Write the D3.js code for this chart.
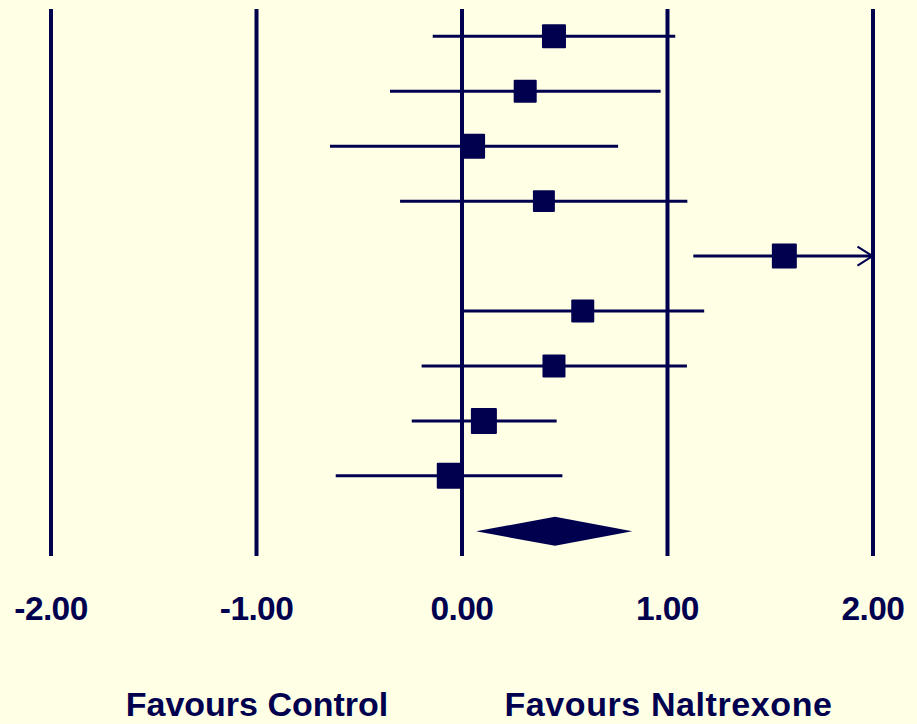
<!DOCTYPE html>
<html>
<head>
<meta charset="utf-8">
<script src="https://cdn.jsdelivr.net/npm/d3@7"></script>
<style>
  html, body { margin: 0; padding: 0; background: #FFFFE6; }
  svg { display: block; }
</style>
</head>
<body>
<svg id="chart" width="917" height="724"></svg>
<script>
// ---- data ----
const studies = ["Study 1", "Study 2", "Study 3", "Study 4", "Study 5", "Study 6", "Study 7", "Study 8", "Study 9"];
const estimates = [0.450, 0.310, 0.054, 0.401, 1.571, 0.590, 0.450, 0.109, -0.057];
const lowerCI   = [-0.140, -0.348, -0.640, -0.299, 1.128, 0.000, -0.194, -0.242, -0.612];
const upperCI   = [1.040, 0.969, 0.762, 1.099, 2.014, 1.181, 1.097, 0.463, 0.491];
const weights   = [11.0, 10.1, 11.9, 9.2, 11.9, 10.1, 10.1, 12.9, 12.9];
const pooled    = { est: 0.455, lo: 0.071, hi: 0.831 };
const tickValues = [-2, -1, 0, 1, 2];
const tickLabels = ["-2.00", "-1.00", "0.00", "1.00", "2.00"];
const leftLabel  = "Favours Control";
const rightLabel = "Favours Naltrexone";

// ---- drawing ----
const ink = "#00004F";
const svg = d3.select("#chart");
svg.append("rect").attr("width", 917).attr("height", 724).attr("fill", "#FFFFE6");

const x = d3.scaleLinear().domain([-2, 2]).range([50.5, 872.5]);
const y = d3.scaleLinear().domain([0, 9]).range([36.3, 530.8]);
const side = d3.scaleSqrt().domain([0, d3.max(weights)]).range([0, 26]);

const lineTop = 9, lineBottom = 556;

// axis with full-height tick lines
const axis = d3.axisBottom(x)
  .tickValues(tickValues)
  .tickSize(-(lineBottom - lineTop))
  .tickFormat((d, i) => tickLabels[i]);
const ax = svg.append("g")
  .attr("transform", `translate(0,${lineBottom})`)
  .call(axis);
ax.select(".domain").remove();
ax.selectAll(".tick line").attr("stroke", ink).attr("stroke-width", 4);
ax.selectAll(".tick text")
  .attr("fill", ink)
  .attr("y", 64)
  .attr("dy", 0)
  .attr("font-family", "'Liberation Sans', Arial, sans-serif")
  .attr("font-weight", "bold")
  .attr("font-size", 33.5)
  .attr("letter-spacing", -0.6);

// confidence intervals
const xMax = x.domain()[1];
const rows = svg.append("g");
studies.forEach((s, i) => {
  const yy = y(i);
  const hiClip = Math.min(upperCI[i], xMax);
  rows.append("line")
    .attr("x1", x(lowerCI[i])).attr("x2", x(hiClip))
    .attr("y1", yy).attr("y2", yy)
    .attr("stroke", ink).attr("stroke-width", 3);
  if (upperCI[i] > xMax) {
    const tip = x(xMax);
    rows.append("path")
      .attr("d", `M${tip - 15},${yy - 9.5}L${tip},${yy}L${tip - 15},${yy + 9.5}`)
      .attr("fill", "none").attr("stroke", ink).attr("stroke-width", 2.2);
  }
  const s2 = side(weights[i]);
  rows.append("rect")
    .attr("x", x(estimates[i]) - s2 / 2)
    .attr("y", yy - s2 / 2)
    .attr("width", s2).attr("height", s2)
    .attr("rx", 1)
    .attr("fill", ink);
});

// pooled diamond
const yd = y(9) + 0.5;
svg.append("path")
  .attr("d", `M${x(pooled.lo)},${yd}L${x(pooled.est)},${yd - 14.5}L${x(pooled.hi)},${yd}L${x(pooled.est)},${yd + 14.5}Z`)
  .attr("fill", ink);

// bottom labels
const labelStyle = sel => sel
  .attr("fill", ink)
  .attr("font-family", "'Liberation Sans', Arial, sans-serif")
  .attr("font-weight", "bold")
  .attr("font-size", 34)
  .attr("text-anchor", "middle");
svg.append("text").attr("x", 257).attr("y", 716).text(leftLabel).call(labelStyle);
svg.append("text").attr("x", 668.5).attr("y", 716).attr("letter-spacing", 0.6).text(rightLabel).call(labelStyle);
</script>
</body>
</html>
